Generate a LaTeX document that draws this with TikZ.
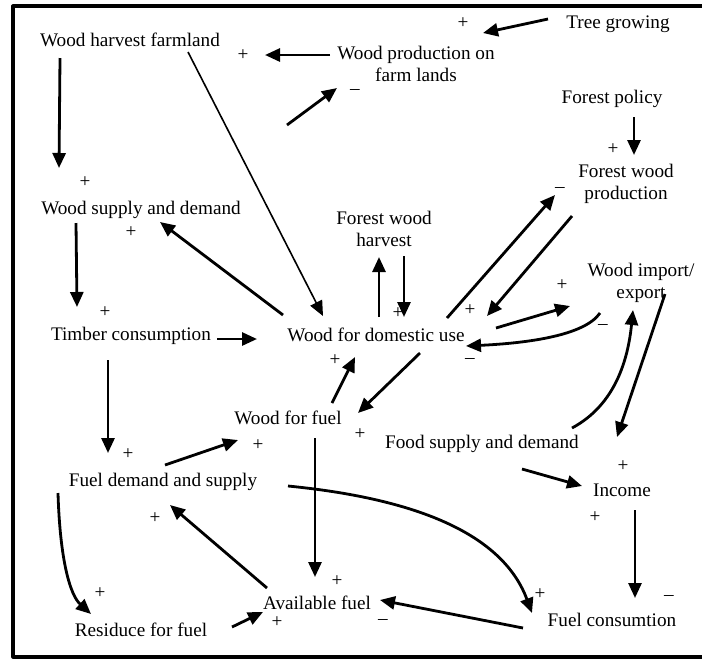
\documentclass[tikz,border=0pt]{standalone}
\usepackage{fontspec}
\setmainfont{Liberation Serif}
\usetikzlibrary{arrows.meta}
\begin{document}
\begin{tikzpicture}[x=0.5pt,y=-0.5pt,line join=round,
  var/.style={inner sep=0pt,align=center,font=\fontsize{9.6pt}{11pt}\selectfont},
  sgn/.style={inner sep=0pt,font=\fontsize{9.6pt}{11pt}\selectfont},
  link/.style={line width=1.4pt,-{Triangle[length=7.5pt,width=6.5pt]}},
  thinlink/.style={link,line width=0.8pt}]
  % picture is laid out in pixel units, y growing downwards
  \useasboundingbox (0,0) rectangle (702,661);
  \draw[line width=1.6pt] (702,6) -| (13,657) -- (702,657);
  % variables
  \node[var] (tree) at (618,24) {Tree growing};
  \node[var] (wpf)  at (416,64) {Wood production on\\farm lands};
  \node[var] (whf)  at (130,40) {Wood harvest farmland};
  \node[var] (fpol) at (612,99) {Forest policy};
  \node[var] (fwp)  at (626,184) {Forest wood\\production};
  \node[var] (fwh)  at (384,229) {Forest wood\\harvest};
  \node[var] (wsd)  at (141,210) {Wood supply and demand};
  \node[var] (tim)  at (131,336) {Timber consumption};
  \node[var] (dom)  at (376,335) {Wood for domestic use};
  \node[var] (wie)  at (641,283) {Wood import/\\export};
  \node[var] (wff)  at (288,418) {Wood for fuel};
  \node[var] (food) at (482,444) {Food supply and demand};
  \node[var] (fds)  at (163,482) {Fuel demand and supply};
  \node[var] (inc)  at (622,490) {Income};
  \node[var] (avf)  at (317,603) {Available fuel};
  \node[var] (res)  at (141,630) {Residuce for fuel};
  \node[var] (fcon) at (612,620) {Fuel consumtion};
  \coordinate (free) at (287,125);
  % polarity signs
  \foreach \x/\y [count=\i] in {463/23,243/55,613/149,85/182,131/232,105/312,
      470/310,398/313,562/285,335/360,360/434,258/445,128/454,155/518,
      337/581,100/593,277/622,540/594,623/466,595/517}
    \node[sgn] (plus\i) at (\x,\y) {+};
  \foreach \x/\y [count=\i] in {355/92,560/190,603/327,470/361,383/622,669/598}
    \node[sgn] (minus\i) at (\x,\y) {--};
  % top part
  \draw[link] ([shift={(-70,-5)}]tree.center) -- ([shift={(67,-31)}]wpf.center);
  \draw[link] ([shift={(-86,-9)}]wpf.center) -- ([shift={(135,15)}]whf.center);
  \draw[link] (free) -- ([shift={(-79,24)}]wpf.center);
  \draw[link] ([shift={(22,18)}]fpol.center) -- ([shift={(8,-29)}]fwp.center);
  \draw[link] ([shift={(-70,18)}]whf.center) -- ([shift={(-82,-42)}]wsd.center);
  \draw[thinlink] ([shift={(58,12)}]whf.center) -- ([shift={(-53,-19)}]dom.center);
  % around wood for domestic use
  \draw[link] ([shift={(-93,-20)}]dom.center) -- ([shift={(19,12)}]wsd.center);
  \draw[link] ([shift={(-65,13)}]wsd.center) -- ([shift={(-54,-29)}]tim.center);
  \draw[link] ([shift={(86,3)}]tim.center) -- ([shift={(-119,4)}]dom.center);
  \draw[link] ([shift={(-23,24)}]tim.center) -- ([shift={(-55,-29)}]fds.center);
  \draw[link] ([shift={(3,-18)}]dom.center) -- ([shift={(-5,28)}]fwh.center);
  \draw[link] ([shift={(20,27)}]fwh.center) -- ([shift={(28,-18)}]dom.center);
  \draw[link] ([shift={(71,-17)}]dom.center) -- ([shift={(-71,11)}]fwp.center);
  \draw[link] ([shift={(-54,32)}]fwp.center) -- ([shift={(111,-19)}]dom.center);
  \draw[link] ([shift={(120,-7)}]dom.center) -- ([shift={(-71,23)}]wie.center);
  \draw[link] ([shift={(-41,30)}]wie.center) .. controls (585,335) and (530,343) .. ([shift={(90,11)}]dom.center);
  \draw[link] ([shift={(44,18)}]dom.center) -- ([shift={(70,-5)}]wff.center);
  \draw[link] ([shift={(44,-15)}]wff.center) -- ([shift={(-21,22)}]dom.center);
  % fuel part
  \draw[link] ([shift={(2,-17)}]fds.center) -- ([shift={(-50,22)}]wff.center);
  \draw[link] ([shift={(27,20)}]wff.center) -- ([shift={(-2,-26)}]avf.center);
  \draw[link] ([shift={(-50,-15)}]avf.center) -- ([shift={(7,23)}]fds.center);
  \draw[link] ([shift={(-105,11)}]fds.center) .. controls (60,560) and (70,595) .. ([shift={(-50,-16)}]res.center);
  \draw[link] ([shift={(91,-3)}]res.center) -- ([shift={(-54,9)}]avf.center);
  \draw[link] ([shift={(125,4)}]fds.center) .. controls (430,500) and (505,540) .. ([shift={(-80,-7)}]fcon.center);
  \draw[link] ([shift={(-89,8)}]fcon.center) -- ([shift={(63,-3)}]avf.center);
  % right part
  \draw[link] ([shift={(40,25)}]food.center) -- ([shift={(-40,-4)}]inc.center);
  \draw[link] ([shift={(13,20)}]inc.center) -- ([shift={(23,-22)}]fcon.center);
  \draw[link] ([shift={(90,-16)}]food.center) .. controls (615,405) and (628,360) .. ([shift={(-8,27)}]wie.center);
  \draw[link] ([shift={(24,11)}]wie.center) -- ([shift={(-5,-53)}]inc.center);
\end{tikzpicture}
\end{document}
